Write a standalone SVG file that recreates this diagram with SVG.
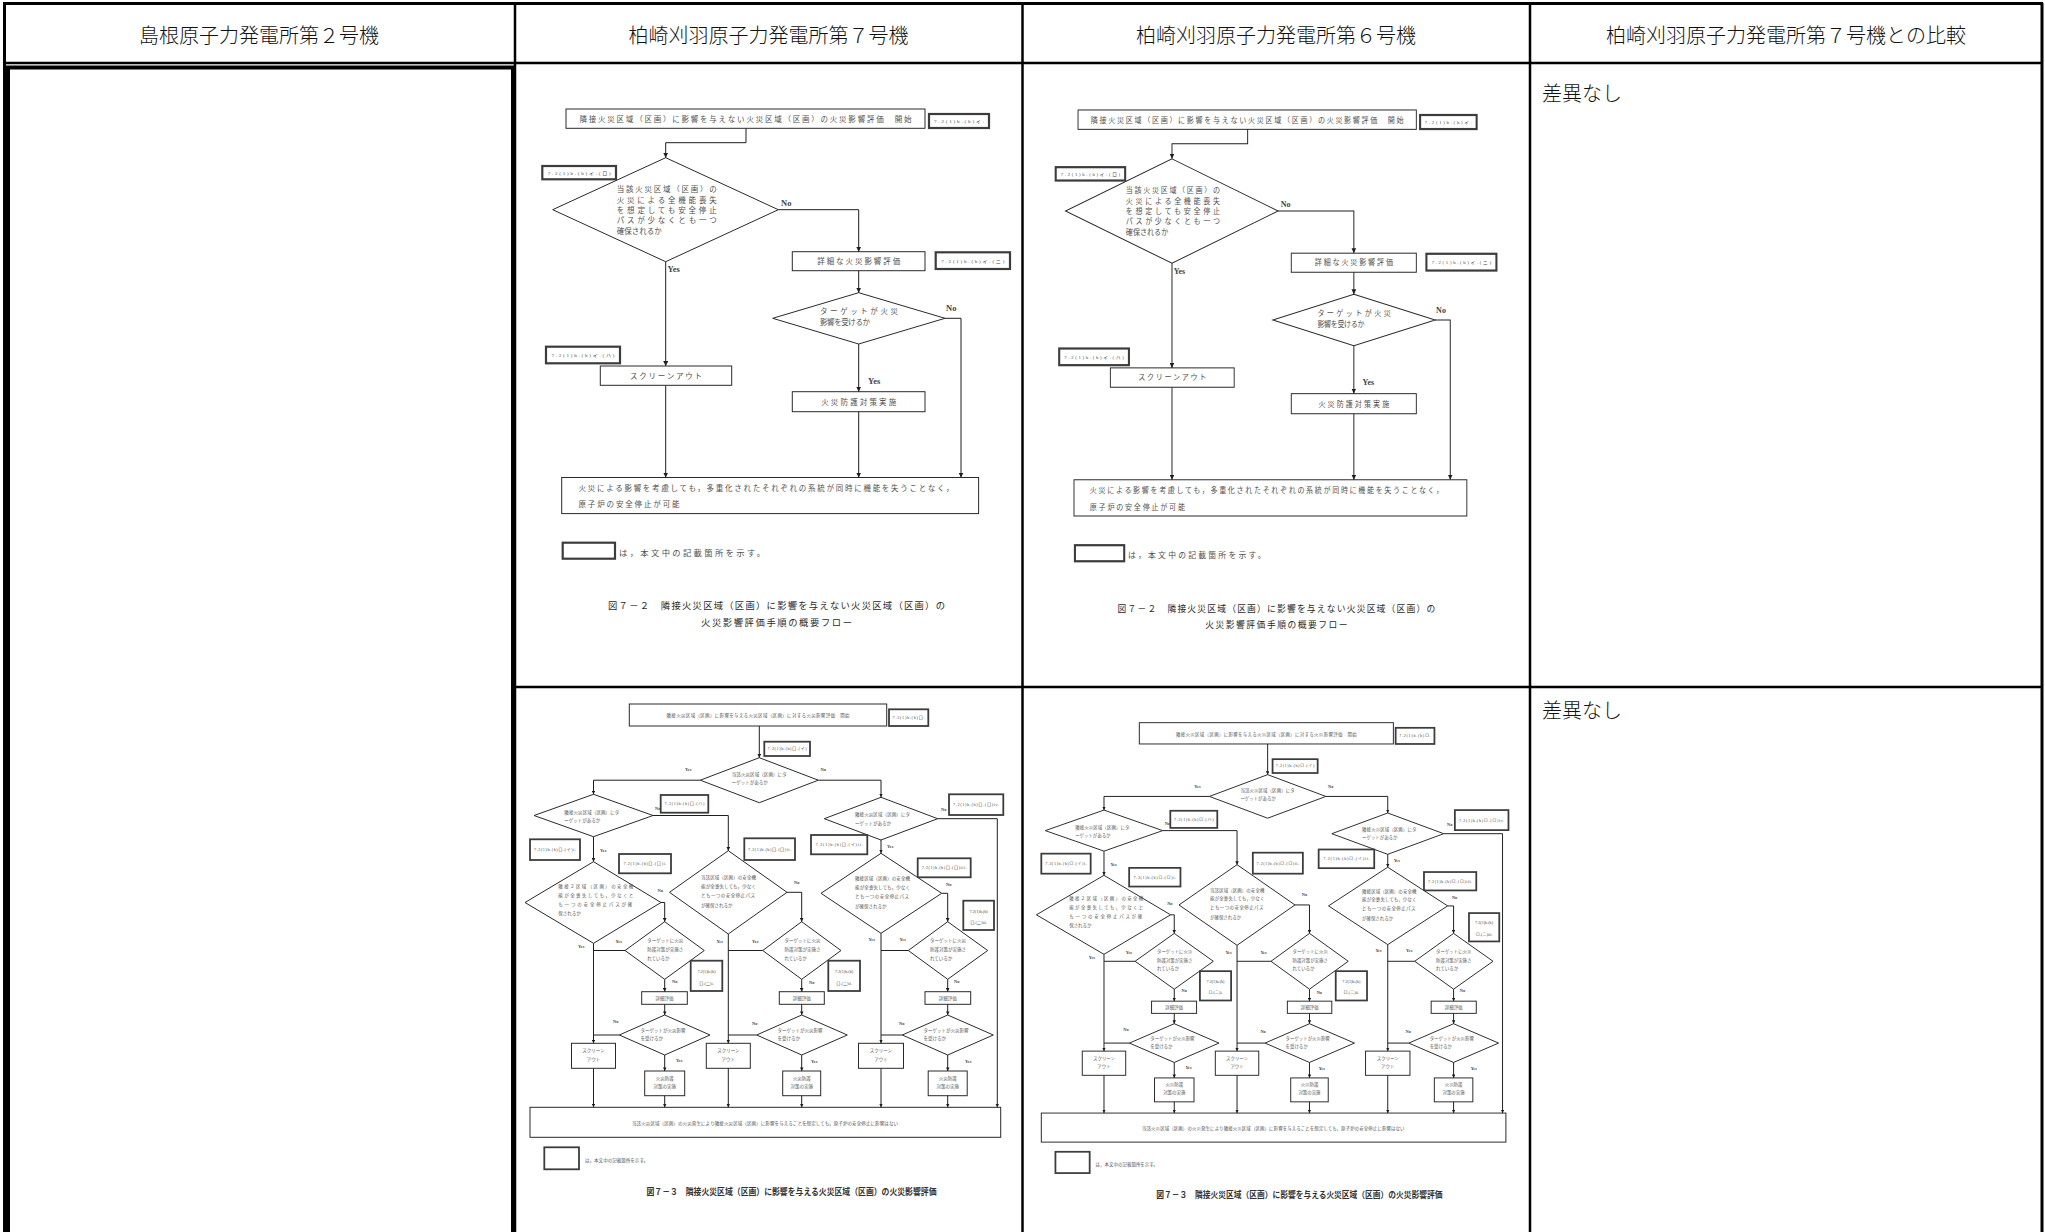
<svg xmlns="http://www.w3.org/2000/svg" xmlns:xlink="http://www.w3.org/1999/xlink" width="2045" height="1232" viewBox="0 0 2045 1232">
<style>
.hdr{font-family:"Noto Sans CJK JP","Noto Sans",sans-serif;font-size:20px;font-weight:300;fill:#111;text-anchor:middle}
.note{font-family:"Noto Sans CJK JP","Noto Sans",sans-serif;font-size:20px;font-weight:300;fill:#111}
.grid{stroke:#000;stroke-width:2.5;fill:none}
.box{fill:#fff;stroke:#2a2a2a;stroke-width:1}
.ref{fill:#fff;stroke:#3c3c3c;stroke-width:2.2}
.ref2{fill:#fff;stroke:#3c3c3c;stroke-width:1.8}
.dia{fill:#fff;stroke:#2a2a2a;stroke-width:1}
.conn{fill:none;stroke:#1e1e1e;stroke-width:1}
.t1{font-family:"Noto Sans CJK JP","Noto Sans",sans-serif;font-size:7.5px;fill:#505050}
.t1m{font-family:"Noto Sans CJK JP","Noto Sans",sans-serif;font-size:7.5px;fill:#505050;text-anchor:middle}
.cap1{font-family:"Noto Sans CJK JP","Noto Sans",sans-serif;font-size:9.3px;fill:#2a2a2a;text-anchor:middle}
.r1{font-family:"Liberation Serif","Noto Sans CJK JP",serif;font-size:5px;fill:#444;text-anchor:middle}
.yn1{font-family:"Liberation Serif",serif;font-size:8.5px;fill:#444;font-weight:bold}
.t2{font-family:"Noto Sans CJK JP","Noto Sans",sans-serif;font-size:4.5px;fill:#555}
.t2m{font-family:"Noto Sans CJK JP","Noto Sans",sans-serif;font-size:4.5px;fill:#555;text-anchor:middle}
.r2{font-family:"Liberation Serif","Noto Sans CJK JP",serif;font-size:4.2px;fill:#444;text-anchor:middle}
.yn2{font-family:"Liberation Serif",serif;font-size:4.5px;fill:#444;font-weight:bold}
.cap2{font-family:"Noto Sans CJK JP","Noto Sans",sans-serif;font-size:9px;font-weight:bold;fill:#333;text-anchor:middle}
</style>
<defs>
<marker id="ah1" viewBox="0 0 8 8" refX="8" refY="4" markerUnits="userSpaceOnUse" markerWidth="5" markerHeight="5" orient="auto"><path d="M0,0 L8,4 L0,8 z" fill="#1e1e1e"/></marker>
<marker id="ah2" viewBox="0 0 8 8" refX="8" refY="4" markerUnits="userSpaceOnUse" markerWidth="3.6" markerHeight="3.6" orient="auto"><path d="M0,0 L8,4 L0,8 z" fill="#1e1e1e"/></marker>
</defs>
<rect width="2045" height="1232" fill="#fff"/>

<g id="table">
<line class="grid" x1="3" y1="3.5" x2="2043" y2="3.5" style="stroke-width:3"/>
<line class="grid" x1="4.5" y1="3" x2="4.5" y2="1232" style="stroke-width:3"/>
<line class="grid" x1="2042" y1="3" x2="2042" y2="1232" style="stroke-width:3"/>
<line class="grid" x1="3" y1="63" x2="2043" y2="63"/>
<line class="grid" x1="515" y1="3" x2="515" y2="1232"/>
<line class="grid" x1="1022.5" y1="3" x2="1022.5" y2="1232"/>
<line class="grid" x1="1530" y1="3" x2="1530" y2="1232"/>
<line class="grid" x1="515" y1="687" x2="2043" y2="687"/>
<rect id="col1-frame" x="8" y="67.5" width="505" height="1180" fill="none" stroke="#000" stroke-width="4"/>
</g>

<g id="headers">
<text class="hdr" x="259" y="43">島根原子力発電所第２号機</text>
<text class="hdr" x="768.5" y="43">柏崎刈羽原子力発電所第７号機</text>
<text class="hdr" x="1276" y="43">柏崎刈羽原子力発電所第６号機</text>
<text class="hdr" x="1786" y="43">柏崎刈羽原子力発電所第７号機との比較</text>
</g>
<g id="compare">
<text class="note" x="1542" y="101">差異なし</text>
<text class="note" x="1542" y="718">差異なし</text>
</g>

<g id="fig1">
<g id="f1-start"><rect class="box" x="566" y="109" width="359" height="19.3"/><text class="t1m" x="745.5" y="121.5" textLength="332">隣接火災区域（区画）に影響を与えない火災区域（区画）の火災影響評価　開始</text></g>
<g id="f1-ref-i"><rect class="ref" x="929" y="114" width="60" height="14"/><text class="r1" x="959" y="122.8" textLength="50">7.2(1)b.(b)イ.</text></g>
<g id="f1-dec1"><polygon class="dia" points="665.7,157.7 778.3,209.7 665.7,261.7 552.7,209.7"/>
<text class="t1" x="616.7" y="192" textLength="100">当該火災区域（区画）の</text>
<text class="t1" x="616.7" y="202.5" textLength="100">火災による全機能喪失</text>
<text class="t1" x="616.7" y="212.7" textLength="100">を想定しても安全停止</text>
<text class="t1" x="616.7" y="222.8" textLength="100">パスが少なくとも一つ</text>
<text class="t1" x="616.7" y="233.8">確保されるか</text></g>
<g id="f1-ref-ro"><rect class="ref" x="542.3" y="166" width="73.7" height="13.3"/><text class="r1" x="579.2" y="174.5" textLength="63">7.2(1)b.(b)イ.(ロ)</text></g>
<g id="f1-detail"><rect class="box" x="792.3" y="251.7" width="132.7" height="19"/><text class="t1m" x="858.7" y="263.8" textLength="83">詳細な火災影響評価</text></g>
<g id="f1-ref-ni"><rect class="ref" x="935.7" y="252.3" width="74.3" height="16.7"/><text class="r1" x="972.8" y="262.5" textLength="63">7.2(1)b.(b)イ.(ニ)</text></g>
<g id="f1-ref-ha"><rect class="ref" x="546" y="346.7" width="74" height="16.6"/><text class="r1" x="583" y="356.8" textLength="63">7.2(1)b.(b)イ.(ハ)</text></g>
<g id="f1-screen"><rect class="box" x="600.3" y="366" width="131.4" height="19.3"/><text class="t1m" x="666" y="378.5" textLength="72">スクリーンアウト</text></g>
<g id="f1-dec2"><polygon class="dia" points="858.7,292.7 945,318.3 858.7,344 772.7,318.3"/>
<text class="t1" x="820" y="314.4" textLength="78">ターゲットが火災</text>
<text class="t1" x="820" y="325" textLength="50">影響を受けるか</text></g>
<g id="f1-protect"><rect class="box" x="792.3" y="391.7" width="132.7" height="20"/><text class="t1m" x="858.7" y="404.5" textLength="75">火災防護対策実施</text></g>
<g id="f1-end"><rect class="box" x="561.7" y="477.5" width="416.9" height="36.1"/>
<text class="t1" x="578.5" y="490.8" textLength="375">火災による影響を考慮しても，多重化されたそれぞれの系統が同時に機能を失うことなく，</text>
<text class="t1" x="578.5" y="507.4" textLength="101">原子炉の安全停止が可能</text></g>
<g id="f1-legend"><rect class="ref" x="562.7" y="542.7" width="52.3" height="16"/><text class="t1" x="619" y="555.8" textLength="146" style="font-size:8.3px">は，本文中の記載箇所を示す。</text></g>
<g id="f1-caption">
<text class="cap1" x="776.5" y="609" textLength="337">図７－２　隣接火災区域（区画）に影響を与えない火災区域（区画）の</text>
<text class="cap1" x="776.5" y="625.5" textLength="151">火災影響評価手順の概要フロー</text></g>
<g id="f1-labels">
<text class="yn1" x="781" y="205.5">No</text>
<text class="yn1" x="667.5" y="272">Yes</text>
<text class="yn1" x="946" y="311">No</text>
<text class="yn1" x="868" y="383.5">Yes</text></g>
<g id="f1-connectors">
<path class="conn" marker-end="url(#ah1)" d="M746,128.3 V142.7 H665.7 V157.7"/>
<path class="conn" marker-end="url(#ah1)" d="M778.3,209.7 H858.7 V251.7"/>
<path class="conn" marker-end="url(#ah1)" d="M665.7,261.7 V366"/>
<path class="conn" marker-end="url(#ah1)" d="M858.7,270.7 V292.7"/>
<path class="conn" marker-end="url(#ah1)" d="M945,318.3 H961 V477.5"/>
<path class="conn" marker-end="url(#ah1)" d="M858.7,344 V391.7"/>
<path class="conn" marker-end="url(#ah1)" d="M665.7,385.3 V477.5"/>
<path class="conn" marker-end="url(#ah1)" d="M858.7,411.7 V477.5"/>
</g>
</g>

<use id="fig1-kk6" xlink:href="#fig1" href="#fig1" transform="matrix(0.9423 0 0 1.0035 544.7 0.6)"/>

<g id="fig2">
<g id="f2-start"><rect class="box" x="629.3" y="704" width="257.4" height="22"/><text class="t2m" x="758" y="717.3" textLength="183">隣接火災区域（区画）に影響を与える火災区域（区画）に対する火災影響評価　開始</text></g>
<g id="f2-q1"><rect class="ref2" x="889" y="709.3" width="39.3" height="16.7"/><text class="r2" x="908.6" y="719.2" textLength="32">7.2(1)b.(b)ロ.</text></g>
<g id="f2-q2"><rect class="ref2" x="764.3" y="741.7" width="45.7" height="14.3"/><text class="r2" x="787.1" y="750.3" textLength="39">7.2(1)b.(b)ロ.(イ)</text></g>
<g id="f2-A"><polygon class="dia" points="759.3,757.7 818.3,780.2 759.3,802.7 700.3,780.2"/>
<text class="t2" x="731.7" y="776" textLength="55">当該火災区域（区画）にタ</text><text class="t2" x="731.7" y="784">ーゲットがあるか</text></g>
<g id="f2-B"><polygon class="dia" points="593.5,794.3 653,815.5 593.5,836.7 534,815.5"/>
<text class="t2" x="564.3" y="813.5" textLength="55">隣接火災区域（区画）にタ</text><text class="t2" x="564.3" y="822">ーゲットがあるか</text></g>
<g id="f2-C"><polygon class="dia" points="881,797.3 937.7,818.7 881,840 824.3,818.7"/>
<text class="t2" x="855" y="816" textLength="55">隣接火災区域（区画）にタ</text><text class="t2" x="855" y="824.5">ーゲットがあるか</text></g>
<g id="f2-q3"><rect class="ref2" x="660.7" y="795" width="47.6" height="17.7"/><text class="r2" x="684.5" y="805.3" textLength="40">7.2(1)b.(b)ロ.(ハ)</text></g>
<g id="f2-q4"><rect class="ref2" x="530" y="839.3" width="50" height="20.7"/><text class="r2" x="555" y="851.2" textLength="42">7.2(1)b.(b)ロ.(イ)i.</text></g>
<g id="f2-q5"><rect class="ref2" x="619" y="854" width="52" height="19.3"/><text class="r2" x="645" y="865.2" textLength="43">7.2(1)b.(b)ロ.(ロ)i.</text></g>
<g id="f2-q6"><rect class="ref2" x="744.3" y="838.3" width="50.7" height="21.7"/><text class="r2" x="769.6" y="850.7" textLength="43">7.2(1)b.(b)ロ.(ロ)ii.</text></g>
<g id="f2-q7"><rect class="ref2" x="949" y="794.3" width="54.3" height="20.7"/><text class="r2" x="976.1" y="806.2" textLength="46">7.2(1)b.(b)ロ.(ロ)iv.</text></g>
<g id="f2-q8"><rect class="ref2" x="811" y="835" width="56.3" height="19.3"/><text class="r2" x="839.1" y="846.2" textLength="47">7.2(1)b.(b)ロ.(イ)ii.</text></g>
<g id="f2-q9"><rect class="ref2" x="917.7" y="858.3" width="53" height="19"/><text class="r2" x="944.2" y="869.3" textLength="45">7.2(1)b.(b)ロ.(ロ)iii.</text></g>
<g id="f2-E"><polygon class="dia" points="593.5,861.7 661,902.5 593.5,943.3 525,902.5"/>
<text class="t2" x="558.3" y="887.5" textLength="75">隣接２区域（区画）の安全機</text>
<text class="t2" x="558.3" y="896.5" textLength="75">能が全喪失しても，少なくと</text>
<text class="t2" x="558.3" y="905.5" textLength="74">も一つの安全停止パスが確</text>
<text class="t2" x="558.3" y="914.8">保されるか</text></g>
<g id="f2-D"><polygon class="dia" points="728.3,850.7 787,892.3 728.3,934 669.5,892.3"/>
<text class="t2" x="701" y="878.5" textLength="55">当該区域（区画）の安全機</text>
<text class="t2" x="701" y="887.5" textLength="55">能が全喪失しても，少なく</text>
<text class="t2" x="701" y="896.8" textLength="54">とも一つの安全停止パス</text>
<text class="t2" x="701" y="906.5">が確保されるか</text></g>
<g id="f2-J"><polygon class="dia" points="881,853.3 941.7,893.3 881,933.3 821,893.3"/>
<text class="t2" x="855" y="879.5" textLength="55">隣接区域（区画）の安全機</text>
<text class="t2" x="855" y="888.5" textLength="55">能が全喪失しても，少なく</text>
<text class="t2" x="855" y="897.8" textLength="54">とも一つの安全停止パス</text>
<text class="t2" x="855" y="907.5">が確保されるか</text></g>
<g id="f2-F"><polygon class="dia" points="664.7,921.7 704.3,950.5 664.7,979.3 625,950.5"/>
<text class="t2" x="647.2" y="942">ターゲットに火災</text><text class="t2" x="647.2" y="950.8">防護対策が実施さ</text><text class="t2" x="647.2" y="959.5">れているか</text></g>
<g id="f2-H"><polygon class="dia" points="801.7,921.7 841,950.5 801.7,979.3 762.7,950.5"/>
<text class="t2" x="784.5" y="942">ターゲットに火災</text><text class="t2" x="784.5" y="950.8">防護対策が実施さ</text><text class="t2" x="784.5" y="959.5">れているか</text></g>
<g id="f2-K"><polygon class="dia" points="947.7,921.7 987.7,950.5 947.7,979.3 908.3,950.5"/>
<text class="t2" x="930" y="942">ターゲットに火災</text><text class="t2" x="930" y="950.8">防護対策が実施さ</text><text class="t2" x="930" y="959.5">れているか</text></g>
<g id="f2-q10"><rect class="ref2" x="690.7" y="960.7" width="31.6" height="30.3"/><text class="r2" x="706.5" y="973">7.2(1)b.(b)</text><text class="r2" x="706.5" y="984.5">ロ.(ニ)i.</text></g>
<g id="f2-q11"><rect class="ref2" x="828.3" y="960.7" width="31.7" height="30.3"/><text class="r2" x="844.1" y="973">7.2(1)b.(b)</text><text class="r2" x="844.1" y="984.5">ロ.(ニ)ii.</text></g>
<g id="f2-q12"><rect class="ref2" x="963.3" y="900.7" width="30.7" height="29.3"/><text class="r2" x="978.6" y="912.5">7.2(1)b.(b)</text><text class="r2" x="978.6" y="924">ロ.(ニ)iii.</text></g>
<g id="f2-det1"><rect class="box" x="641.7" y="991.7" width="45.6" height="12.6"/><text class="t2m" x="664.5" y="999.8">詳細評価</text></g>
<g id="f2-det2"><rect class="box" x="779.3" y="991.7" width="45" height="12.6"/><text class="t2m" x="801.8" y="999.8">詳細評価</text></g>
<g id="f2-det3"><rect class="box" x="925" y="991.7" width="45.7" height="12.6"/><text class="t2m" x="947.8" y="999.8">詳細評価</text></g>
<g id="f2-G"><polygon class="dia" points="664.7,1015 710,1035 664.7,1055 619.3,1035"/>
<text class="t2" x="640.5" y="1031.5">ターゲットが火災影響</text><text class="t2" x="640.5" y="1040.3">を受けるか</text></g>
<g id="f2-I"><polygon class="dia" points="801.7,1015 847.3,1035 801.7,1055 756.7,1035"/>
<text class="t2" x="777.5" y="1031.5">ターゲットが火災影響</text><text class="t2" x="777.5" y="1040.3">を受けるか</text></g>
<g id="f2-L"><polygon class="dia" points="947.7,1015 993.3,1035 947.7,1055 902.3,1035"/>
<text class="t2" x="923.5" y="1031.5">ターゲットが火災影響</text><text class="t2" x="923.5" y="1040.3">を受けるか</text></g>
<g id="f2-so1"><rect class="box" x="571.5" y="1043.3" width="44" height="25"/><text class="t2m" x="593.5" y="1052">スクリーン</text><text class="t2m" x="593.5" y="1060.5">アウト</text></g>
<g id="f2-so2"><rect class="box" x="706.3" y="1043.3" width="44" height="25"/><text class="t2m" x="728.3" y="1052">スクリーン</text><text class="t2m" x="728.3" y="1060.5">アウト</text></g>
<g id="f2-so3"><rect class="box" x="858.5" y="1043.3" width="45" height="25"/><text class="t2m" x="881" y="1052">スクリーン</text><text class="t2m" x="881" y="1060.5">アウト</text></g>
<g id="f2-pr1"><rect class="box" x="644.7" y="1071" width="40" height="24.7"/><text class="t2m" x="664.7" y="1079.5">火災防護</text><text class="t2m" x="664.7" y="1088">対策の実施</text></g>
<g id="f2-pr2"><rect class="box" x="782.7" y="1071" width="38" height="24.7"/><text class="t2m" x="801.7" y="1079.5">火災防護</text><text class="t2m" x="801.7" y="1088">対策の実施</text></g>
<g id="f2-pr3"><rect class="box" x="928.2" y="1071" width="39" height="24.7"/><text class="t2m" x="947.7" y="1079.5">火災防護</text><text class="t2m" x="947.7" y="1088">対策の実施</text></g>
<g id="f2-end"><rect class="box" x="530" y="1107.3" width="470.7" height="30"/><text class="t2m" x="765" y="1124.5" textLength="266">当該火災区域（区画）の火災発生により隣接火災区域（区画）に影響を与えることを想定しても，原子炉の安全停止に影響はない</text></g>
<g id="f2-legend"><rect class="ref2" x="544.3" y="1147.3" width="34.7" height="22"/><text class="t2" x="585" y="1161.5" textLength="63">は，本文中の記載箇所を示す。</text></g>
<g id="f2-caption"><text class="cap2" x="791.5" y="1195" textLength="290" lengthAdjust="spacingAndGlyphs">図７－３　隣接火災区域（区画）に影響を与える火災区域（区画）の火災影響評価</text></g>
<g id="f2-labels">
<text class="yn2" x="685" y="771">Yes</text>
<text class="yn2" x="820.5" y="771">No</text>
<text class="yn2" x="655" y="810">No</text>
<text class="yn2" x="600" y="852">Yes</text>
<text class="yn2" x="941" y="810.5">No</text>
<text class="yn2" x="887" y="848">Yes</text>
<text class="yn2" x="657.5" y="892">No</text>
<text class="yn2" x="794" y="883.5">No</text>
<text class="yn2" x="946" y="886">No</text>
<text class="yn2" x="578" y="948">Yes</text>
<text class="yn2" x="615.5" y="942.5">Yes</text>
<text class="yn2" x="716.5" y="942.5">Yes</text>
<text class="yn2" x="752" y="943">Yes</text>
<text class="yn2" x="868.5" y="941">Yes</text>
<text class="yn2" x="899.5" y="941">Yes</text>
<text class="yn2" x="672" y="982.5">No</text>
<text class="yn2" x="809" y="984">No</text>
<text class="yn2" x="954" y="982.5">No</text>
<text class="yn2" x="613" y="1023">No</text>
<text class="yn2" x="752" y="1024.5">No</text>
<text class="yn2" x="899" y="1024.5">No</text>
<text class="yn2" x="676" y="1062">Yes</text>
<text class="yn2" x="811" y="1062.5">Yes</text>
<text class="yn2" x="965" y="1062.5">Yes</text>
</g>
<g id="f2-connectors">
<path class="conn" marker-end="url(#ah2)" d="M759.3,726 V757.7"/>
<path class="conn" marker-end="url(#ah2)" d="M700.3,780.2 H593.5 V794.3"/>
<path class="conn" marker-end="url(#ah2)" d="M818.3,780.2 H881 V797.3"/>
<path class="conn" marker-end="url(#ah2)" d="M653,815.5 H728.3 V850.7"/>
<path class="conn" marker-end="url(#ah2)" d="M593.5,836.7 V861.7"/>
<path class="conn" marker-end="url(#ah2)" d="M661,902.5 H664.7 V921.7"/>
<path class="conn" marker-end="url(#ah2)" d="M593.5,943.3 V1043.3"/>
<path class="conn" d="M625,950.5 H593.5"/>
<path class="conn" marker-end="url(#ah2)" d="M664.7,979.3 V991.7"/>
<path class="conn" marker-end="url(#ah2)" d="M664.7,1004.3 V1015"/>
<path class="conn" d="M619.3,1035 H593.5"/>
<path class="conn" marker-end="url(#ah2)" d="M664.7,1055 V1071"/>
<path class="conn" marker-end="url(#ah2)" d="M593.5,1068.3 V1107.3"/>
<path class="conn" marker-end="url(#ah2)" d="M664.7,1095.7 V1107.3"/>
<path class="conn" marker-end="url(#ah2)" d="M787,892.3 H801.7 V921.7"/>
<path class="conn" marker-end="url(#ah2)" d="M728.3,934 V1043.3"/>
<path class="conn" d="M762.7,950.5 H728.3"/>
<path class="conn" marker-end="url(#ah2)" d="M801.7,979.3 V991.7"/>
<path class="conn" marker-end="url(#ah2)" d="M801.7,1004.3 V1015"/>
<path class="conn" d="M756.7,1035 H728.3"/>
<path class="conn" marker-end="url(#ah2)" d="M801.7,1055 V1071"/>
<path class="conn" marker-end="url(#ah2)" d="M728.3,1068.3 V1107.3"/>
<path class="conn" marker-end="url(#ah2)" d="M801.7,1095.7 V1107.3"/>
<path class="conn" marker-end="url(#ah2)" d="M937.7,818.7 H997.3 V1107.3"/>
<path class="conn" marker-end="url(#ah2)" d="M881,840 V853.3"/>
<path class="conn" marker-end="url(#ah2)" d="M941.7,893.3 H947.7 V921.7"/>
<path class="conn" marker-end="url(#ah2)" d="M881,933.3 V1043.3"/>
<path class="conn" d="M908.3,950.5 H881"/>
<path class="conn" marker-end="url(#ah2)" d="M947.7,979.3 V991.7"/>
<path class="conn" marker-end="url(#ah2)" d="M947.7,1004.3 V1015"/>
<path class="conn" d="M902.3,1035 H881"/>
<path class="conn" marker-end="url(#ah2)" d="M947.7,1055 V1071"/>
<path class="conn" marker-end="url(#ah2)" d="M881,1068.3 V1107.3"/>
<path class="conn" marker-end="url(#ah2)" d="M947.7,1095.7 V1107.3"/>
</g>
</g>

<use id="fig2-kk6" xlink:href="#fig2" href="#fig2" transform="matrix(0.987 0 0 0.968 518.2 41.2)"/>
</svg>
